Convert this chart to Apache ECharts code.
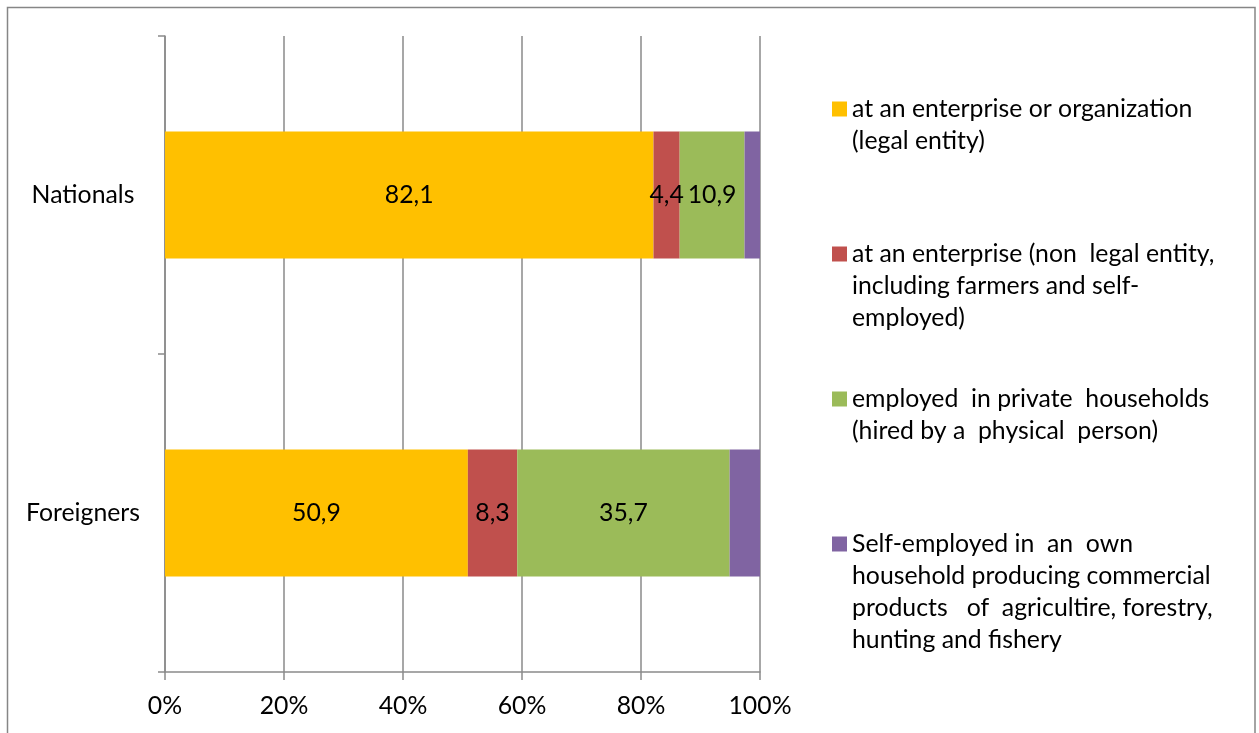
<!DOCTYPE html>
<html>
<head>
<meta charset="utf-8">
<script src="https://cdn.jsdelivr.net/npm/echarts@6/dist/echarts.min.js"></script>
<style>
html,body{margin:0;padding:0;background:#fff;}
#chart{width:1259px;height:733px;}
</style>
</head>
<body>
<div id="chart"></div>
<script>
const categories = ['Nationals', 'Foreigners'];
const seriesNames = [
  'at an enterprise or organization\n(legal entity)',
  'at an enterprise (non  legal entity,\nincluding farmers and self-\nemployed)',
  'employed  in private  households\n(hired by a  physical  person)',
  'Self-employed in  an  own\nhousehold producing commercial\nproducts   of  agricultire, forestry,\nhunting and fishery'
];
const legalEntity = [82.1, 50.9];
const nonLegalEntity = [4.4, 8.3];
const privateHouseholds = [10.9, 35.7];
const ownHousehold = [2.6, 5.1];
const xTicks = ['0%', '20%', '40%', '60%', '80%', '100%'];

const colors = ['#FFC000', '#C0504D', '#9BBB59', '#8064A2'];
const values = [legalEntity, nonLegalEntity, privateHouseholds, ownHousehold];
const FONT = 'Lato';
const FS = 24.8;
const LH = 32;
const LINE = '#8a8a8a';

const series = values.map((v, i) => ({
  name: seriesNames[i],
  type: 'bar',
  stack: 'total',
  barWidth: '40%',
  itemStyle: { color: colors[i] },
  label: {
    show: i < 3,
    position: 'inside',
    color: '#000',
    fontFamily: FONT,
    fontSize: FS,
    formatter: p => String(p.value).replace('.', ',')
  },
  emphasis: { disabled: true },
  data: v
}));

const legendCenters = [107, 252, 397, 542];
const legends = seriesNames.map((name, i) => {
  const n = name.split('\n').length;
  return {
    orient: 'vertical',
    left: 832,
    top: legendCenters[i] - (n - 1) * LH - 14,
    padding: 0,
    itemWidth: 15,
    itemHeight: 15,
    icon: 'rect',
    selectedMode: false,
    formatter: nm => '\n'.repeat(n - 1) + nm,
    textStyle: { fontFamily: FONT, fontSize: FS, color: '#000', lineHeight: LH },
    data: [name]
  };
});

const chart = echarts.init(document.getElementById('chart'));
chart.setOption({
  animation: false,
  backgroundColor: '#fff',
  textStyle: { fontFamily: FONT },
  graphic: [{
    type: 'rect',
    shape: { x: 7.5, y: 7.5, width: 1247.5, height: 740 },
    style: { fill: 'none', stroke: '#868686', lineWidth: 1.5 },
    silent: true
  }],
  legend: legends,
  grid: { left: 165, right: 499, top: 36, bottom: 61, containLabel: false },
  xAxis: {
    type: 'value',
    min: 0,
    max: 100,
    interval: 20,
    axisLine: { show: true, lineStyle: { color: LINE, width: 1.5 } },
    axisTick: { show: true, length: 8, lineStyle: { color: LINE, width: 1.5 } },
    splitLine: { show: true, lineStyle: { color: LINE, width: 1.5 } },
    axisLabel: {
      color: '#000', fontFamily: FONT, fontSize: FS, margin: 22,
      formatter: v => xTicks[Math.round(v / 20)]
    }
  },
  yAxis: {
    type: 'category',
    inverse: true,
    data: categories,
    axisLine: { show: true, lineStyle: { color: LINE, width: 1.5 } },
    axisTick: { show: true, length: 7, lineStyle: { color: LINE, width: 1.5 } },
    axisLabel: { color: '#000', fontFamily: FONT, fontSize: FS, align: 'center', margin: 82 }
  },
  series: series
});
</script>
</body>
</html>
